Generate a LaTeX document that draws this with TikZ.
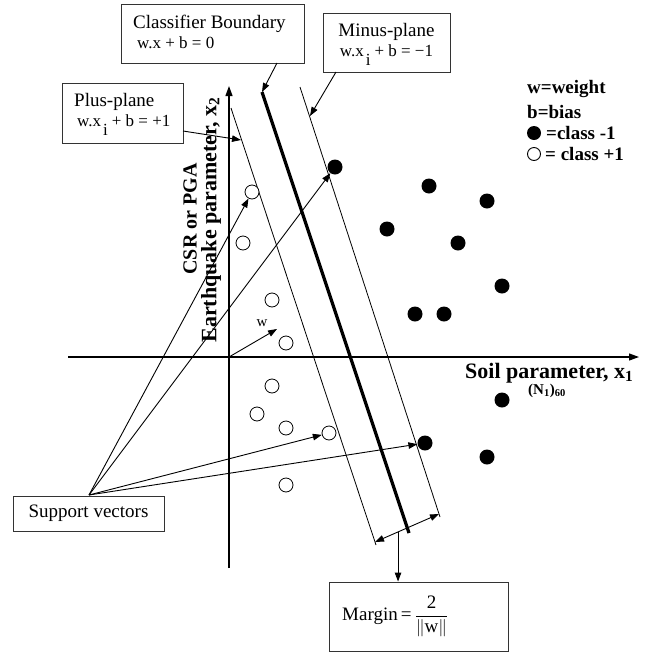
\documentclass[tikz,border=0pt]{standalone}
\usepackage{fontspec}
\setmainfont{Liberation Serif}
\usetikzlibrary{arrows.meta,calc}
\begin{document}
\begin{tikzpicture}[x=1pt,y=-1pt,
  box/.style={draw=black!80, line width=0.9pt, inner sep=0pt},
  thinline/.style={line width=0.8pt},
  axis/.style={line width=1.2pt,-{Triangle[length=10pt,width=7pt]}},
  arr/.style={line width=0.9pt,-{Triangle[length=9pt,width=6.5pt]}},
  dblarr/.style={line width=0.9pt,{Triangle[length=9pt,width=6.5pt]}-{Triangle[length=9pt,width=6.5pt]}},
  opendot/.style={circle,draw,line width=0.8pt,minimum size=14pt,inner sep=0pt,fill=white},
  filldot/.style={circle,fill=black,minimum size=15pt,inner sep=0pt},
  boxtext/.style={font=\fontsize{19pt}{23pt}\selectfont},
  legend/.style={font=\fontsize{19pt}{22pt}\selectfont\bfseries, anchor=west, inner sep=0pt},
  axlabel/.style={font=\fontsize{22pt}{24pt}\selectfont\bfseries, inner sep=0pt},
  ]
\useasboundingbox (0,0) rectangle (651,654);

% axes
\coordinate (yb) at (229,568);
\coordinate (yt) at (229,86);
\coordinate (xl) at (68,357);
\coordinate (xr) at (639,357);
\coordinate (o) at (229,357);
\draw[axis] (yb) -- (yt);
\draw[axis] (xl) -- (xr);

% planes
\coordinate (pt) at (231,108);
\coordinate (pb) at (376,545);
\coordinate (ct) at (262,92);
\coordinate (cbot) at (409,533);
\coordinate (mt) at (300,87);
\coordinate (mb) at (440,517);
\draw[thinline] (pt) -- (pb);
\draw[thinline] (mt) -- (mb);
\draw[line width=3.2pt] (ct) -- (cbot);

% axis labels
\node[axlabel, anchor=west] (xlab) at (465,373) {Soil parameter, x\textsubscript{1}};
\node[font=\fontsize{15pt}{17pt}\selectfont\bfseries, inner sep=0pt] (n60) at (547,391) {(N\textsubscript{1})\textsubscript{60}};
\node[axlabel, font=\fontsize{20pt}{22pt}\selectfont\bfseries, rotate=90] (ylab1) at (190,219) {CSR or PGA};
\node[axlabel, rotate=90] (ylab2) at (211,220) {Earthquake parameter, x\textsubscript{2}};

% open circles (class +1)
\node[opendot] (o1) at (252,192) {};
\node[opendot] (o2) at (243,243) {};
\node[opendot] (o3) at (272,300) {};
\node[opendot] (o4) at (286,343) {};
\node[opendot] (o5) at (272,386) {};
\node[opendot] (o6) at (257,414) {};
\node[opendot] (o7) at (286,428) {};
\node[opendot] (o8) at (329,433) {};
\node[opendot] (o9) at (286,485) {};

% filled circles (class -1)
\node[filldot] (f1) at (335,167) {};
\node[filldot] (f2) at (429,186) {};
\node[filldot] (f3) at (487,201) {};
\node[filldot] (f4) at (387,229) {};
\node[filldot] (f5) at (458,243) {};
\node[filldot] (f6) at (502,286) {};
\node[filldot] (f7) at (415,314) {};
\node[filldot] (f8) at (444,314) {};
\node[filldot] (f9) at (502,400) {};
\node[filldot] (f10) at (425,443) {};
\node[filldot] (f11) at (487,457) {};

% w vector
\coordinate (wt) at (277,329);
\draw[arr] (o) -- (wt);
\node[font=\fontsize{15pt}{17pt}\selectfont, inner sep=0pt] (wlab) at (262,323) {w};

% boxes
\node[box, boxtext, minimum width=183pt, minimum height=59pt] (cb) at (212.5,33.5) {};
\node[boxtext, anchor=west, inner sep=0pt] (cbt) at (133,33.5)
  {\begin{tabular}{@{}l@{}}Classifier Boundary\\[-3pt] \fontsize{17pt}{19pt}\selectfont\hspace{4pt}w.x + b = 0\end{tabular}};
\node[box, boxtext, minimum width=127pt, minimum height=59pt] (mp) at (386.5,42.5)
  {\begin{tabular}{@{}c@{}}Minus-plane\\[-3pt] \fontsize{17pt}{19pt}\selectfont w.x\hspace{2pt}\raisebox{-9pt}{i}\hspace{4pt}+ b = −1\end{tabular}};
\node[box, boxtext, minimum width=121pt, minimum height=60pt] (pp) at (122.5,113) {};
\node[boxtext, anchor=west, inner sep=0pt] (ppt) at (74,113)
  {\begin{tabular}{@{}l@{}}Plus-plane\\[-3pt] \fontsize{17pt}{19pt}\selectfont\hspace{3pt}w.x\hspace{2pt}\raisebox{-9pt}{i}\hspace{4pt}+ b = +1\end{tabular}};
\node[box, boxtext, minimum width=151pt, minimum height=35pt] (sv) at (88.5,513.5) {Support vectors};
\node[box, boxtext, minimum width=179pt, minimum height=69pt] (mg) at (418.5,616.5) {};
\node[boxtext, anchor=west, inner sep=0pt] (mgt) at (342,616.5)
  {Margin\,=\,$\displaystyle\frac{\hbox{2}}{\|\hbox{w}\|}$};

% legend
\node[legend] (lw) at (527,89) {w=weight};
\node[legend] (lb) at (527,112) {b=bias};
\node[circle, fill=black, minimum size=14pt, inner sep=0pt] (lfd) at (534,133) {};
\node[legend] (lc1) at (546,133) {=class -1};
\node[circle, draw, line width=0.9pt, minimum size=13pt, inner sep=0pt] (lod) at (534,154) {};
\node[legend] (lc2) at (545,154) {= class +1};

% box pointers
\coordinate (cbtail) at (277,63);
\coordinate (mptail) at (336,72);
\coordinate (mptip) at (310,116);
\coordinate (pptail) at (183,131);
\coordinate (pptip) at (241,140);
\draw[arr] (cbtail) -- (ct);
\draw[arr] (mptail) -- (mptip);
\draw[arr] (pptail) -- (pptip);

% support vector pointers
\coordinate (svs) at (89,495);
\draw[arr] (svs) -- (o1);
\draw[arr] (svs) -- (f1);
\draw[arr] (svs) -- (o8);
\draw[arr] (svs) -- (f10);

% margin
\coordinate (ma) at (375,542);
\coordinate (mbb) at (439,514);
\draw[dblarr] (ma) -- (mbb);
\coordinate (mpt) at ($(ma)!0.36!(mbb)$);
\draw[arr] (mpt) -- (mpt |- mg.north);
\end{tikzpicture}
\end{document}
